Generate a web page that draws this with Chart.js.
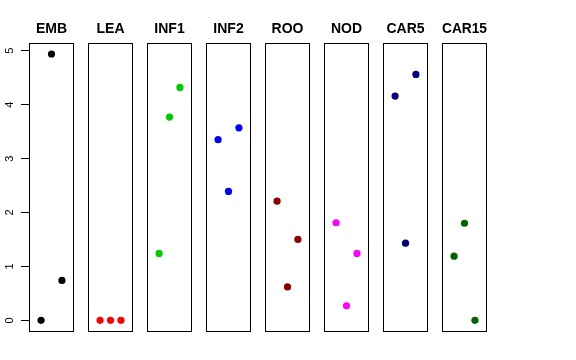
<!DOCTYPE html>
<html>
<head>
<meta charset="utf-8">
<script src="https://cdn.jsdelivr.net/npm/chart.js@4/dist/chart.umd.min.js"></script>
<style>
  html, body { margin: 0; padding: 0; background: #fff; }
  #wrap { position: relative; width: 576px; height: 360px; overflow: hidden; }
  #wrap canvas { position: absolute; top: 0; }
</style>
</head>
<body>
<div id="wrap"></div>
<script>
// ---- data ----
const categories = ['EMB', 'LEA', 'INF1', 'INF2', 'ROO', 'NOD', 'CAR5', 'CAR15'];
const xPositions = [1, 2, 3];
const embValues   = [0, 4.94, 0.74];
const leaValues   = [0, 0, 0];
const inf1Values  = [1.24, 3.77, 4.32];
const inf2Values  = [3.35, 2.39, 3.57];
const rooValues   = [2.21, 0.62, 1.50];
const nodValues   = [1.81, 0.27, 1.24];
const car5Values  = [4.16, 1.43, 4.56];
const car15Values = [1.19, 1.80, 0];
const yTicks = [0, 1, 2, 3, 4, 5];
const seriesColors = ['#000000', '#FF0000', '#00CD00', '#0000FF', '#8B0000', '#FF00FF', '#000080', '#006400'];

const allValues = [embValues, leaValues, inf1Values, inf2Values, rooValues, nodValues, car5Values, car15Values];

// axis ranges (R-style 4% extension)
const yMin = -0.198, yMax = 5.138;
const xMin = -0.16, xMax = 4.16;

// ---- layout ----
const panelLeft0 = 29, panelStep = 59, panelWidth = 45;
const padSide = 5;

const boxPlugin = {
  id: 'box',
  afterDatasetsDraw(chart) {
    const a = chart.chartArea;
    const ctx = chart.ctx;
    ctx.save();
    ctx.strokeStyle = '#000';
    ctx.lineWidth = 1;
    ctx.strokeRect(Math.round(a.left) + 0.5, Math.round(a.top) + 0.5,
                   Math.round(a.right - a.left) - 1, Math.round(a.bottom - a.top));
    ctx.restore();
  }
};

const wrap = document.getElementById('wrap');
categories.forEach((name, i) => {
  const first = i === 0;
  const boxLeft = panelLeft0 + i * panelStep;
  const canvasLeft = first ? 0 : boxLeft - padSide;
  const canvasWidth = first ? boxLeft + panelWidth + padSide : panelWidth + 2 * padSide;
  const cv = document.createElement('canvas');
  cv.width = canvasWidth; cv.height = 360;
  cv.style.left = canvasLeft + 'px';
  cv.style.width = canvasWidth + 'px';
  cv.style.height = '360px';
  wrap.appendChild(cv);

  const yScale = {
    type: 'linear', min: yMin, max: yMax,
    display: first,
    afterBuildTicks: (s) => { s.ticks = yTicks.map(v => ({ value: v })); },
    grid: { drawOnChartArea: false, drawTicks: true, tickLength: 8, color: '#000', lineWidth: 1 },
    border: { display: false },
    ticks: {
      color: '#000',
      font: { family: 'Liberation Sans, Arial, sans-serif', size: 11 },
      minRotation: 90, maxRotation: 90,
      crossAlign: 'center',
      padding: 8,
      callback: (v) => String(v)
    }
  };
  if (first) yScale.afterFit = (s) => { s.width = panelLeft0; };

  new Chart(cv, {
    type: 'scatter',
    data: {
      datasets: [{
        label: name,
        data: xPositions.map((x, k) => ({ x: x, y: allValues[i][k] })),
        backgroundColor: seriesColors[i],
        borderWidth: 0,
        pointRadius: 3.6,
        pointHoverRadius: 3.6
      }]
    },
    options: {
      responsive: false,
      animation: false,
      events: [],
      layout: { padding: { left: first ? 0 : padSide, right: padSide, top: 0, bottom: 29 } },
      plugins: {
        legend: { display: false },
        tooltip: { enabled: false },
        title: {
          display: true,
          text: name,
          fullSize: false,
          color: '#000',
          font: { family: 'Liberation Sans, Arial, sans-serif', size: 14, weight: 'bold', lineHeight: 1.2 },
          padding: { top: 21, bottom: 5.5 }
        }
      },
      scales: {
        x: { type: 'linear', min: xMin, max: xMax, display: false },
        y: yScale
      }
    },
    plugins: [boxPlugin]
  });
});
</script>
</body>
</html>
